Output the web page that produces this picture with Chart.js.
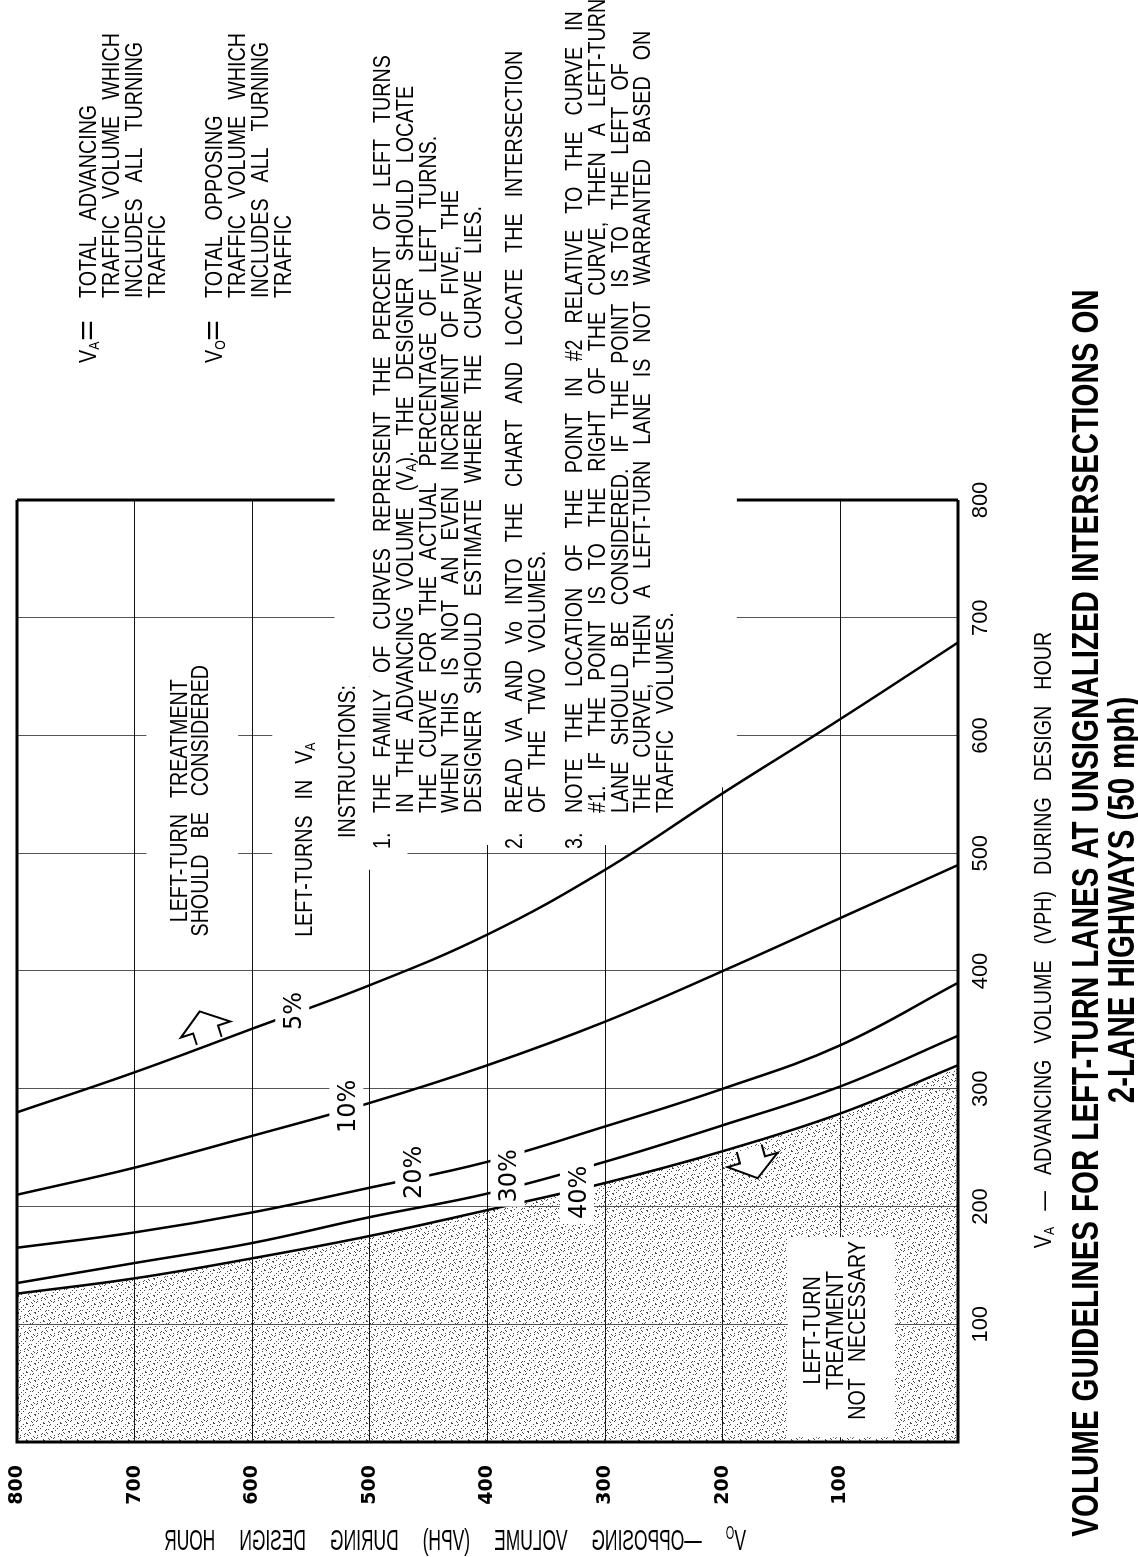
<!DOCTYPE html>
<html>
<head>
<meta charset="utf-8">
<title>Volume guidelines for left-turn lanes</title>
<script src="https://cdn.jsdelivr.net/npm/chart.js@4.4.1/dist/chart.umd.min.js"></script>
<style>
  html, body { margin: 0; padding: 0; background: #fff; overflow: hidden; width: 1138px; height: 1557px; }
  /* the sheet is drawn landscape and turned a quarter to the left, like the printed page */
  #sheet { position: absolute; left: 0; top: 1557px; width: 1557px; height: 1138px;
           transform: rotate(-90deg); transform-origin: 0 0; background: #fff; }
</style>
</head>
<body>
<div id="sheet"><canvas id="chart" width="1557" height="1138"></canvas></div>
<script>
// opposing volume (vph) at which each curve was read
const opposingVolume = [800, 700, 600, 500, 400, 300, 200, 100, 0];
// advancing volume (vph) for each percentage of left turns
const advancing5  = [280, 314, 351, 388, 431, 486, 551, 614, 679];
const advancing10 = [210, 233, 260, 288, 320, 357, 400, 445, 490];
const advancing20 = [165, 178, 195, 216, 238, 268, 300, 337, 390];
const advancing30 = [135, 152, 169, 191, 211, 238, 269, 302, 345];
const advancing40 = [126, 139, 156, 175, 197, 220, 247, 279, 320];
const curveNames = ['5%', '10%', '20%', '30%', '40%'];
const axisTicks = [100, 200, 300, 400, 500, 600, 700, 800];

const curves = [advancing5, advancing10, advancing20, advancing30, advancing40];

const SANS = '"Liberation Sans", Arial, sans-serif';
const noteStyle = { family: SANS, size: 24, sx: 0.82, gap: 16 };
const equalsStyle = { family: SANS, size: 30, sx: 1.2, gap: 0 };
const titleStyle = { family: SANS, size: 36, weight: 'bold', sx: 0.82, gap: 9 };
const mirrorStyle = { family: SANS, size: 30, sx: 0.58, gap: 24 };

// annotation placement (data units: va = advancing, vo = opposing)
const curveLabelAt = [[366, 566], [285, 520], [229, 464], [226, 383], [212, 324]];
const arrows = [{ va: 339, vo: 636, deg: -18 }, { va: 251, vo: 178, deg: 164 }];
const gridMasks = [
  { va: [418, 669], vo: [612, 690] },
  { va: [486, 650], vo: [468, 583] },
  { va: [650, 803], vo: [468, 530] },
  { va: [507, 803], vo: [219, 469] },
  { va: [556, 803], vo: [188, 220] }
];

// light stipple for the "not necessary" region
function stipple() {
  const c = document.createElement('canvas');
  c.width = c.height = 17;
  const g = c.getContext('2d');
  g.fillStyle = '#4a4a4a';
  for (let y = 0; y < 17; y++) {
    for (let x = 0; x < 17; x++) {
      if ((x * 37 + y * 91 + x * y * 13) % 17 < 2) g.fillRect(x, y, 1, 1);
    }
  }
  return g.createPattern(c, 'repeat');
}
const dots = stipple();

// --- text with sub/superscripts (_X, ^X), squeezed like the drafting font ---
function pieces(word) {
  const out = [];
  let buf = '';
  for (let i = 0; i < word.length; i++) {
    const ch = word[i];
    if ((ch === '_' || ch === '^') && i + 1 < word.length) {
      if (buf) out.push({ t: buf, m: 0 });
      buf = '';
      out.push({ t: word[i + 1], m: ch === '_' ? 1 : 2 });
      i++;
    } else {
      buf += ch;
    }
  }
  if (buf) out.push({ t: buf, m: 0 });
  return out;
}
function setFont(ctx, st, small) {
  const size = small ? Math.round(st.size * 0.62) : st.size;
  ctx.font = (st.weight || 'normal') + ' ' + size + 'px ' + st.family;
}
function richWidth(ctx, text, st) {
  const words = text.split(' ');
  let w = st.gap * (words.length - 1);
  words.forEach(wd => pieces(wd).forEach(p => {
    setFont(ctx, st, p.m);
    w += ctx.measureText(p.t).width * st.sx;
  }));
  return w;
}
function drawRich(ctx, text, x, y, st, align) {
  let cx = align === 'center' ? x - richWidth(ctx, text, st) / 2 : x;
  ctx.save();
  ctx.fillStyle = '#000';
  ctx.textAlign = 'left';
  ctx.textBaseline = 'alphabetic';
  text.split(' ').forEach(wd => {
    pieces(wd).forEach(p => {
      setFont(ctx, st, p.m);
      const dy = p.m === 1 ? st.size * 0.14 : (p.m === 2 ? -st.size * 0.38 : 0);
      ctx.save();
      ctx.translate(cx, y + dy);
      ctx.scale(st.sx, 1);
      ctx.fillText(p.t, 0, 0);
      ctx.restore();
      cx += ctx.measureText(p.t).width * st.sx;
    });
    cx += st.gap;
  });
  ctx.restore();
}

function drawArrow(ctx, px, py, deg) {
  const t = deg * Math.PI / 180, c = Math.cos(t), s = Math.sin(t);
  const pts = [[2, -13], [14, -13], [14, -26], [33, 0], [14, 26], [14, 13], [2, 13]];
  ctx.beginPath();
  pts.forEach(([a, b], i) => {
    const X = px + a * c - b * s, Y = py + a * s + b * c;
    if (i) ctx.lineTo(X, Y); else ctx.moveTo(X, Y);
  });
  ctx.fillStyle = '#fff';
  ctx.fill();
  ctx.strokeStyle = '#000';
  ctx.lineWidth = 2;
  ctx.stroke();
}

const notes = {
  id: 'notes',
  beforeDatasetsDraw(chart) {
    const { ctx, chartArea: a, scales: { x, y } } = chart;
    ctx.save();
    // the VA = 800 side of the frame, partly hidden behind the instructions
    ctx.strokeStyle = '#000';
    ctx.lineWidth = 3;
    ctx.beginPath();
    ctx.moveTo(a.right, a.top);
    ctx.lineTo(a.right, a.bottom);
    ctx.stroke();

    ctx.fillStyle = '#fff';
    gridMasks.forEach(m => {
      const x0 = x.getPixelForValue(m.va[0]), x1 = x.getPixelForValue(m.va[1]);
      const y0 = y.getPixelForValue(m.vo[1]), y1 = y.getPixelForValue(m.vo[0]);
      ctx.fillRect(x0, y0, x1 - x0, y1 - y0);
    });

    // definitions
    const defs = [
      ['V_A', ['TOTAL ADVANCING', 'TRAFFIC VOLUME WHICH', 'INCLUDES ALL TURNING', 'TRAFFIC'], 96],
      ['V_O', ['TOTAL OPPOSING', 'TRAFFIC VOLUME WHICH', 'INCLUDES ALL TURNING', 'TRAFFIC'], 222]
    ];
    defs.forEach(([lead, lines, base]) => {
      drawRich(ctx, lead, 1194, base, noteStyle);
      drawRich(ctx, '=', 1216, base + 1, equalsStyle);
      lines.forEach((ln, i) => drawRich(ctx, ln, 1259, base + i * 23, noteStyle));
    });

    // instructions
    drawRich(ctx, 'LEFT-TURN TREATMENT', x.getPixelForValue(544.6), y.getPixelForValue(655.6), noteStyle, 'center');
    drawRich(ctx, 'SHOULD BE CONSIDERED', x.getPixelForValue(544.6), y.getPixelForValue(655.6) + 21, noteStyle, 'center');
    drawRich(ctx, 'LEFT-TURNS IN V_A', x.getPixelForValue(429), y.getPixelForValue(549.3), noteStyle);
    drawRich(ctx, 'INSTRUCTIONS:', 719, 355, noteStyle);
    const paras = [
      ['1.', 390, ['THE FAMILY OF CURVES REPRESENT THE PERCENT OF LEFT TURNS',
                   'IN THE ADVANCING VOLUME (V_A). THE DESIGNER SHOULD LOCATE',
                   'THE CURVE FOR THE ACTUAL PERCENTAGE OF LEFT TURNS.',
                   'WHEN THIS IS NOT AN EVEN INCREMENT OF FIVE, THE',
                   'DESIGNER SHOULD ESTIMATE WHERE THE CURVE LIES.']],
      ['2.', 522, ['READ VA AND Vo INTO THE CHART AND LOCATE THE INTERSECTION',
                   'OF THE TWO VOLUMES.']],
      ['3.', 582, ['NOTE THE LOCATION OF THE POINT IN #2 RELATIVE TO THE CURVE IN',
                   '#1. IF THE POINT IS TO THE RIGHT OF THE CURVE, THEN A LEFT-TURN',
                   'LANE SHOULD BE CONSIDERED. IF THE POINT IS TO THE LEFT OF',
                   'THE CURVE, THEN A LEFT-TURN LANE IS NOT WARRANTED BASED ON',
                   'TRAFFIC VOLUMES.']]
    ];
    paras.forEach(([num, base, lines]) => {
      drawRich(ctx, num, 708, base, noteStyle);
      lines.forEach((ln, i) => drawRich(ctx, ln, 744, base + i * 22.8, noteStyle));
    });

    // axis titles and heading
    drawRich(ctx, 'V_A \u2014 ADVANCING VOLUME (VPH) DURING DESIGN HOUR', 617, 1051, noteStyle, 'center');
    drawRich(ctx, 'VOLUME GUIDELINES FOR LEFT-TURN LANES AT UNSIGNALIZED INTERSECTIONS ON', 644, 1098, titleStyle, 'center');
    drawRich(ctx, '2-LANE HIGHWAYS (50 mph)', 657, 1134, titleStyle, 'center');

    // opposing-volume title, printed mirrored on the original sheet
    ctx.save();
    ctx.translate(7, 455);
    ctx.transform(0, -1, -1, 0, 0, 0);
    drawRich(ctx, 'V^O \u2014OPPOSING VOLUME (VPH) DURING DESIGN HOUR', 0, 0, mirrorStyle, 'center');
    ctx.restore();
    ctx.restore();
  },
  afterDatasetsDraw(chart) {
    const { ctx, chartArea: a, scales: { x, y } } = chart;
    ctx.save();
    ctx.strokeStyle = '#000';
    ctx.lineWidth = 3;
    ctx.beginPath();
    ctx.moveTo(a.right, a.top);
    ctx.lineTo(a.left, a.top);
    ctx.lineTo(a.left, a.bottom);
    ctx.lineTo(a.right, a.bottom);
    ctx.stroke();

    // percent labels sit in small white boxes that break the curves
    ctx.font = '24px "DejaVu Sans", sans-serif';
    ctx.textAlign = 'center';
    ctx.textBaseline = 'alphabetic';
    curveNames.forEach((name, i) => {
      const px = x.getPixelForValue(curveLabelAt[i][0]);
      const py = y.getPixelForValue(curveLabelAt[i][1]);
      const m = ctx.measureText(name);
      const asc = m.actualBoundingBoxAscent, desc = m.actualBoundingBoxDescent;
      ctx.fillStyle = '#fff';
      ctx.fillRect(px - m.width / 2 - 4, py - (asc + desc) / 2 - 8, m.width + 8, asc + desc + 16);
      ctx.fillStyle = '#000';
      ctx.fillText(name, px, py + (asc - desc) / 2);
    });

    arrows.forEach(ar => drawArrow(ctx, x.getPixelForValue(ar.va), y.getPixelForValue(ar.vo), ar.deg));

    // "not necessary" box inside the stipple
    const bx0 = x.getPixelForValue(4), bx1 = x.getPixelForValue(174);
    const by0 = y.getPixelForValue(144.6), by1 = y.getPixelForValue(53.6);
    ctx.fillStyle = '#fff';
    ctx.fillRect(bx0, by0, bx1 - bx0, by1 - by0);
    ['LEFT-TURN', 'TREATMENT', 'NOT NECESSARY'].forEach((ln, i) => {
      drawRich(ctx, ln, x.getPixelForValue(94.8), y.getPixelForValue(117.3) + i * 22.5, noteStyle, 'center');
    });
    ctx.restore();
  }
};

const datasets = curves.map((vals, i) => ({
  label: curveNames[i],
  data: vals.map((va, j) => ({ x: va, y: opposingVolume[j] })),
  borderColor: '#000',
  borderWidth: 2.5,
  pointRadius: 0,
  tension: 0.4,
  fill: i === curves.length - 1 ? 'origin' : false,
  backgroundColor: i === curves.length - 1 ? dots : 'transparent'
}));
// the stipple also covers everything with less advancing volume than the 40% curve's start
datasets.push({
  label: 'shade',
  data: [{ x: 0, y: opposingVolume[0] }, { x: advancing40[0], y: opposingVolume[0] }],
  borderWidth: 0,
  pointRadius: 0,
  fill: 'origin',
  backgroundColor: dots
});

const tickList = scale => { scale.ticks = [0].concat(axisTicks).map(v => ({ value: v })); };
const tickText = v => (v === 0 ? '' : String(v));

new Chart(document.getElementById('chart'), {
  type: 'line',
  data: { datasets },
  options: {
    responsive: false,
    animation: false,
    events: [],
    layout: { padding: { left: 0, right: 500, top: 17, bottom: 0 } },
    plugins: { legend: { display: false }, tooltip: { enabled: false } },
    scales: {
      x: {
        type: 'linear',
        min: 0,
        max: 800,
        afterBuildTicks: tickList,
        afterFit: s => { s.height = 180; s.paddingLeft = 0; s.paddingRight = 0; },
        border: { display: false },
        grid: { color: '#555', lineWidth: 1, drawTicks: false },
        ticks: {
          padding: 10,
          maxRotation: 0,
          autoSkip: false,
          color: '#000',
          font: { family: SANS, size: 22 },
          callback: tickText
        }
      },
      y: {
        type: 'linear',
        min: 0,
        max: 800,
        afterBuildTicks: tickList,
        afterFit: s => { s.width = 115; s.paddingTop = 0; s.paddingBottom = 0; },
        border: { display: false },
        grid: { color: '#111', lineWidth: 1, drawTicks: false },
        ticks: {
          padding: 23,
          autoSkip: false,
          color: '#000',
          font: { family: '"DejaVu Sans", sans-serif', size: 19, weight: 'bold' },
          callback: tickText
        }
      }
    }
  },
  plugins: [notes]
});
</script>
</body>
</html>
